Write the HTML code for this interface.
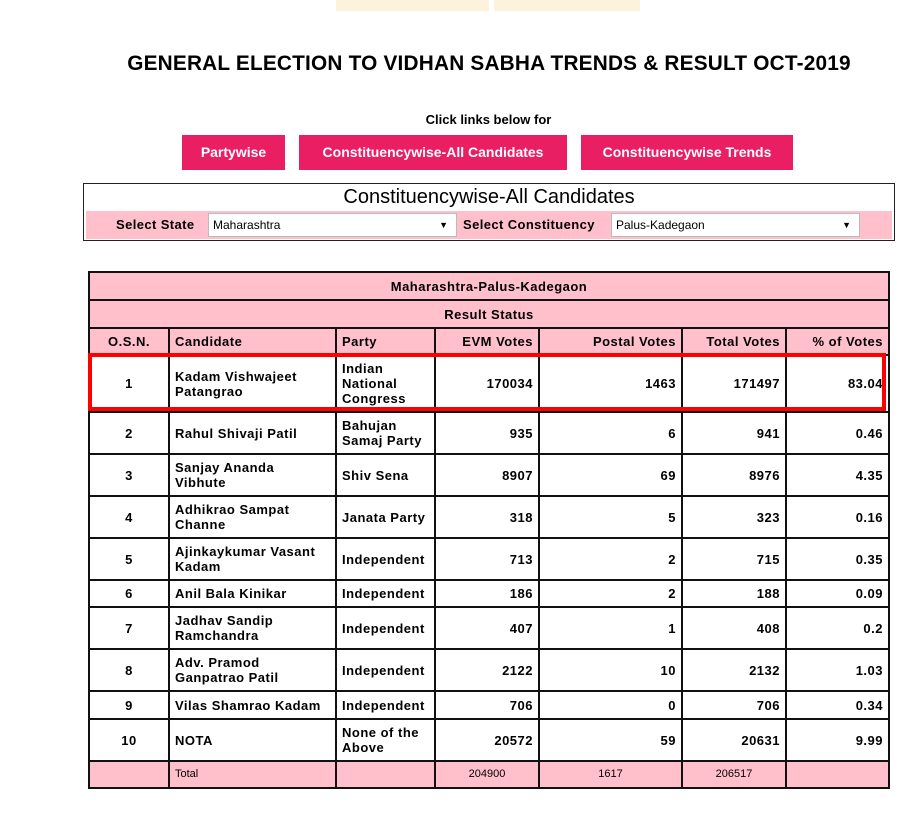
<!DOCTYPE html>
<html><head><meta charset="utf-8"><style>
body{margin:0;width:917px;height:816px;background:#fff;font-family:"Liberation Sans",sans-serif;position:relative;overflow:hidden}
.a{position:absolute}
.btn{position:absolute;top:135px;height:35px;background:#e91e63;color:#fff;font-weight:bold;font-size:14px;line-height:35px;text-align:center}
table{position:absolute;left:88px;top:271px;border-collapse:collapse;table-layout:fixed;font-size:13px;font-weight:bold;letter-spacing:0.5px}
td{border:2px solid #111;padding:0 5px;vertical-align:middle;line-height:15px}
.p td{background:#ffc0cb}
.c{text-align:center}.r{text-align:right}
.sel{position:absolute;top:213px;height:24px;background:#fff;border:1px solid #bbb;box-sizing:border-box;font-size:12px;line-height:22px;padding-left:4px}
.sel span{position:absolute;right:8px;font-size:9px}
</style></head><body>
<div class="a" style="left:336px;top:0;width:153px;height:11px;background:#fdf3dc"></div>
<div class="a" style="left:494px;top:0;width:146px;height:11px;background:#fdf3dc"></div>
<div class="a" style="left:0;width:978px;top:52px;text-align:center;font-size:20.8px;letter-spacing:0.2px;font-weight:bold">GENERAL ELECTION TO VIDHAN SABHA TRENDS &amp; RESULT OCT-2019</div>
<div class="a" style="left:0;width:977px;top:112px;text-align:center;font-size:13px;font-weight:bold">Click links below for</div>
<div class="btn" style="left:182px;width:103px">Partywise</div>
<div class="btn" style="left:299px;width:268px">Constituencywise-All Candidates</div>
<div class="btn" style="left:581px;width:212px">Constituencywise Trends</div>
<div class="a" style="left:83px;top:183px;width:810px;height:56px;border:1px solid #222"></div>
<div class="a" style="left:83px;width:812px;top:186px;text-align:center;font-size:20px">Constituencywise-All Candidates</div>
<div class="a" style="left:86px;top:211px;width:806px;height:28px;background:#ffc0cb"></div>
<div class="a" style="left:116px;top:217px;font-size:13px;font-weight:bold;letter-spacing:0.4px">Select State</div>
<div class="sel" style="left:208px;width:249px">Maharashtra<span>▼</span></div>
<div class="a" style="left:463px;top:217px;font-size:13px;font-weight:bold;letter-spacing:0.4px">Select Constituency</div>
<div class="sel" style="left:611px;width:249px">Palus-Kadegaon<span>▼</span></div>
<table>
<colgroup><col style="width:80px"><col style="width:167px"><col style="width:99px"><col style="width:104px"><col style="width:143px"><col style="width:104px"><col style="width:103px"></colgroup>
<tr class="p" style="height:28px"><td colspan="7" class="c">Maharashtra-Palus-Kadegaon</td></tr>
<tr class="p" style="height:28px"><td colspan="7" class="c">Result Status</td></tr>
<tr class="p" style="height:27px"><td class="c">O.S.N.</td><td>Candidate</td><td>Party</td><td class="r">EVM Votes</td><td class="r">Postal Votes</td><td class="r">Total Votes</td><td class="r">% of Votes</td></tr>
<tr style="height:57px"><td class="c">1</td><td>Kadam Vishwajeet Patangrao</td><td>Indian National Congress</td><td class="r">170034</td><td class="r">1463</td><td class="r">171497</td><td class="r">83.04</td></tr>
<tr style="height:42px"><td class="c">2</td><td>Rahul Shivaji Patil</td><td>Bahujan Samaj Party</td><td class="r">935</td><td class="r">6</td><td class="r">941</td><td class="r">0.46</td></tr>
<tr style="height:42px"><td class="c">3</td><td>Sanjay Ananda<br>Vibhute</td><td>Shiv Sena</td><td class="r">8907</td><td class="r">69</td><td class="r">8976</td><td class="r">4.35</td></tr>
<tr style="height:42px"><td class="c">4</td><td>Adhikrao Sampat Channe</td><td>Janata Party</td><td class="r">318</td><td class="r">5</td><td class="r">323</td><td class="r">0.16</td></tr>
<tr style="height:42px"><td class="c">5</td><td>Ajinkaykumar Vasant Kadam</td><td>Independent</td><td class="r">713</td><td class="r">2</td><td class="r">715</td><td class="r">0.35</td></tr>
<tr style="height:27px"><td class="c">6</td><td>Anil Bala Kinikar</td><td>Independent</td><td class="r">186</td><td class="r">2</td><td class="r">188</td><td class="r">0.09</td></tr>
<tr style="height:42px"><td class="c">7</td><td>Jadhav Sandip Ramchandra</td><td>Independent</td><td class="r">407</td><td class="r">1</td><td class="r">408</td><td class="r">0.2</td></tr>
<tr style="height:42px"><td class="c">8</td><td>Adv. Pramod Ganpatrao Patil</td><td>Independent</td><td class="r">2122</td><td class="r">10</td><td class="r">2132</td><td class="r">1.03</td></tr>
<tr style="height:28px"><td class="c">9</td><td>Vilas Shamrao Kadam</td><td>Independent</td><td class="r">706</td><td class="r">0</td><td class="r">706</td><td class="r">0.34</td></tr>
<tr style="height:42px"><td class="c">10</td><td>NOTA</td><td>None of the Above</td><td class="r">20572</td><td class="r">59</td><td class="r">20631</td><td class="r">9.99</td></tr>
<tr class="p" style="height:27px;font-weight:normal;font-size:11px;letter-spacing:0"><td></td><td>Total</td><td></td><td class="c">204900</td><td class="c">1617</td><td class="c">206517</td><td></td></tr>
</table>
<div class="a" style="left:88px;top:353px;width:790px;height:50px;border:4px solid #f00"></div>
</body></html>
